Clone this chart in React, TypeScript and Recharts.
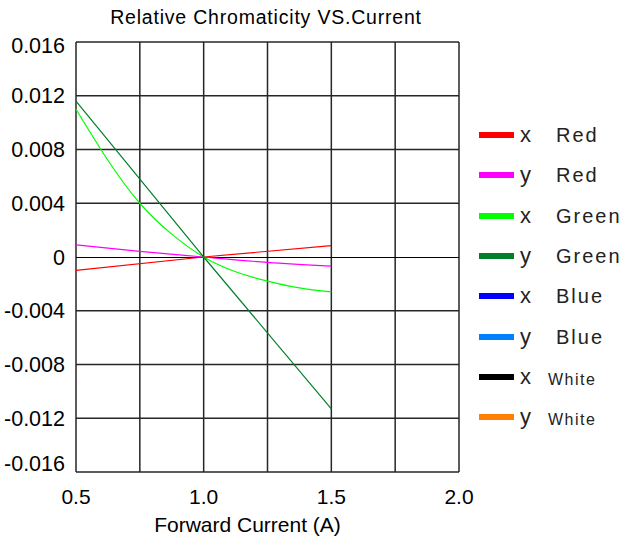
import React from 'react';
import { LineChart, Line, XAxis, YAxis, CartesianGrid, ReferenceLine, Legend, Customized } from 'recharts';

const xTicks = [0.5, 0.75, 1.0, 1.25, 1.5, 1.75, 2.0];
const xLabelTicks = [0.5, 1.0, 1.5, 2.0];
const yTicks = [-0.016, -0.012, -0.008, -0.004, 0, 0.004, 0.008, 0.012, 0.016];
const yGridValues = [-0.016, -0.012, -0.008, -0.004, 0.004, 0.008, 0.012, 0.016];

const xRed = [
  { current: 0.5, value: -0.001 },
  { current: 1.0, value: 0 },
  { current: 1.5, value: 0.00085 },
];
const yRed = [
  { current: 0.5, value: 0.0009 },
  { current: 0.75, value: 0.00042 },
  { current: 1.0, value: 0 },
  { current: 1.25, value: -0.0004 },
  { current: 1.5, value: -0.00068 },
];
const xGreen = [
  { current: 0.5, value: 0.011 },
  { current: 0.625, value: 0.0072 },
  { current: 0.75, value: 0.004 },
  { current: 0.875, value: 0.0017 },
  { current: 1.0, value: 0 },
  { current: 1.125, value: -0.0011 },
  { current: 1.25, value: -0.0018 },
  { current: 1.375, value: -0.0023 },
  { current: 1.5, value: -0.0026 },
];
const yGreen = [
  { current: 0.5, value: 0.0116 },
  { current: 1.0, value: 0 },
  { current: 1.5, value: -0.0113 },
];

const legendItems = [
  { axis: 'x', name: 'Red', color: '#ff0000' },
  { axis: 'y', name: 'Red', color: '#ff00ff' },
  { axis: 'x', name: 'Green', color: '#00ff00' },
  { axis: 'y', name: 'Green', color: '#00802a' },
  { axis: 'x', name: 'Blue', color: '#0000ff' },
  { axis: 'y', name: 'Blue', color: '#0080ff' },
  { axis: 'x', name: 'White', color: '#000000' },
  { axis: 'y', name: 'White', color: '#ff8000' },
];

const FONT = "'Liberation Sans', Arial, sans-serif";

const YTick = (props: any) => {
  const { y, payload } = props;
  const v = payload.value;
  let dy = 0;
  if (v === 0.016) dy = 3.5;
  if (v === -0.016) dy = -9;
  const label = v === 0 ? '0' : v.toFixed(3);
  return (
    <text x={65} y={y + dy} dy="0.36em" textAnchor="end" fontSize={21.5} fontFamily={FONT} fill="#000">
      {label}
    </text>
  );
};

const XTick = (props: any) => {
  const { x, payload } = props;
  if (!xLabelTicks.includes(payload.value)) return null;
  return (
    <text x={x} y={496} dy="0.36em" textAnchor="middle" fontSize={21} fontFamily={FONT} fill="#000">
      {payload.value.toFixed(1)}
    </text>
  );
};

const LegendContent = () => (
  <div style={{ position: 'relative', width: 146, height: 330, fontFamily: FONT, color: '#222' }}>
    {legendItems.map((it, i) => {
      const cy = 20 + i * 40.3;
      const small = it.name === 'White';
      return (
        <div key={i} style={{ position: 'absolute', top: cy - 15, left: 0, height: 30, width: 146 }}>
          <div style={{ position: 'absolute', left: 0, top: 12, width: 35, height: 6, background: it.color }} />
          <span style={{ position: 'absolute', left: 41, top: 0, fontSize: 22, lineHeight: '30px' }}>{it.axis}</span>
          <span
            style={{
              position: 'absolute',
              left: small ? 69 : 77,
              top: small ? 3 : 0,
              fontSize: small ? 16 : 20,
              letterSpacing: small ? 1.5 : 2,
              lineHeight: '30px',
            }}
          >
            {it.name}
          </span>
        </div>
      );
    })}
  </div>
);

const Titles = () => (
  <g>
    <text x={266} y={24} textAnchor="middle" fontSize={19.5} letterSpacing={0.8} fontFamily={FONT} fill="#000">
      Relative Chromaticity VS.Current
    </text>
    <text x={247.5} y={532} textAnchor="middle" fontSize={21} fontFamily={FONT} fill="#000">
      Forward Current (A)
    </text>
  </g>
);

export default function App() {
  return (
    <div style={{ position: 'absolute', left: 0, top: 0, width: 625, height: 547, background: '#fff' }}>
      <LineChart width={625} height={547} margin={{ top: 42, right: 166, bottom: 0, left: 0 }}>
        <CartesianGrid stroke="#262626" strokeWidth={1.5} horizontalValues={yGridValues} />
        <XAxis
          type="number"
          dataKey="current"
          domain={[0.5, 2.0]}
          ticks={xTicks}
          height={75}
          axisLine={false}
          tickLine={false}
          tick={<XTick />}
          allowDuplicatedCategory={false}
        />
        <YAxis
          type="number"
          domain={[-0.016, 0.016]}
          ticks={yTicks}
          width={76}
          axisLine={false}
          tickLine={false}
          tick={<YTick />}
          allowDataOverflow
        />
        <ReferenceLine y={0} stroke="#000" strokeWidth={1} shapeRendering="crispEdges" />
        <Line data={xRed} dataKey="value" type="linear" stroke="#ff0000" strokeWidth={1.2} dot={false} isAnimationActive={false} />
        <Line data={yRed} dataKey="value" type="natural" stroke="#ff00ff" strokeWidth={1.2} dot={false} isAnimationActive={false} />
        <Line data={xGreen} dataKey="value" type="natural" stroke="#00ff00" strokeWidth={1.2} dot={false} isAnimationActive={false} />
        <Line data={yGreen} dataKey="value" type="linear" stroke="#00802a" strokeWidth={1.2} dot={false} isAnimationActive={false} />
        <Legend
          layout="vertical"
          align="center"
          verticalAlign="middle"
          content={<LegendContent />}
          wrapperStyle={{ left: 479, top: 115, width: 146, height: 330 }}
        />
        <Customized component={Titles} />
      </LineChart>
    </div>
  );
}
